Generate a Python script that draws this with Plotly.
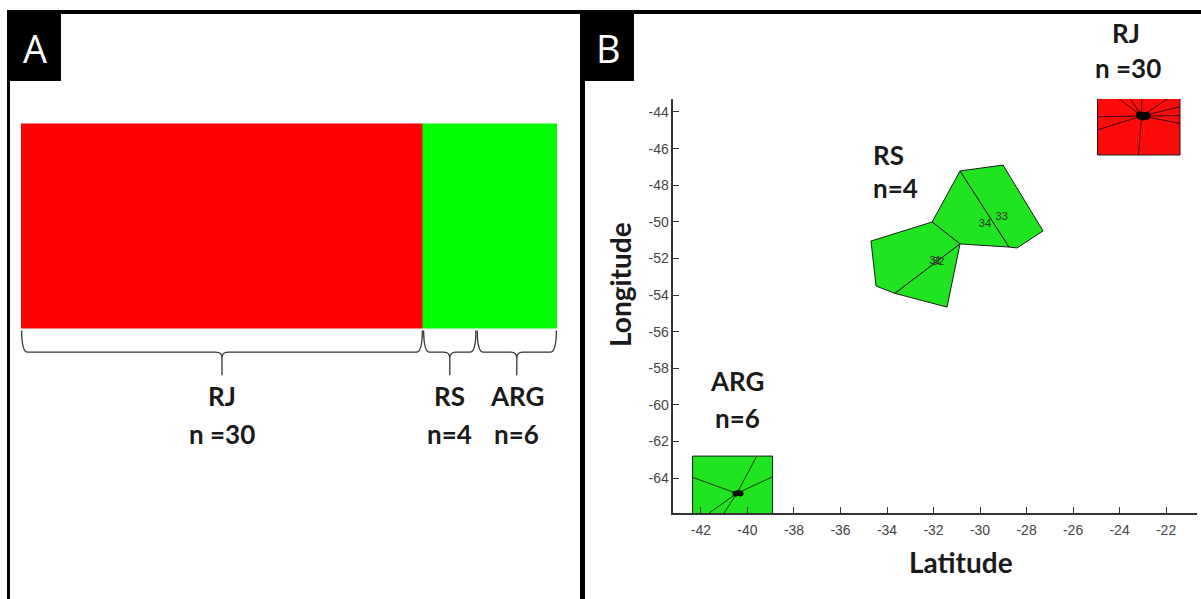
import plotly.graph_objects as go

W, H = 1201, 599

# ---------------- data ----------------
groups = ["RJ", "RS", "ARG"]
counts = [30, 4, 6]
bar_colors = ["#FF0000", "#00FF00", "#00FF00"]
count_labels = ["n =30", "n=4", "n=6"]

# Panel B: Voronoi-like cells (latitude, longitude)
rj_cell_x = [-24.95, -21.40, -21.40, -24.95, -24.95]
rj_cell_y = [-43.25, -43.25, -46.35, -46.35, -43.25]
rj_center_x = -23.05
rj_center_y = -44.22
rj_edge_x = [-24.05, -23.55, -23.05, -21.90, -21.40, -21.40, -21.40, -24.95, -24.95, -23.19]
rj_edge_y = [-43.25, -43.25, -43.25, -43.25, -43.71, -44.20, -44.62, -44.98, -44.26, -46.35]
rj_pts_x = [-23.12, -23.00, -22.85]
rj_pts_y = [-44.18, -44.24, -44.20]

arg_cell_x = [-42.36, -38.92, -38.92, -42.36, -42.36]
arg_cell_y = [-62.80, -62.80, -66.20, -66.20, -62.80]
arg_center_x = -40.46
arg_center_y = -64.84
arg_edge_x = [-42.36, -39.60, -38.92, -41.75, -41.05]
arg_edge_y = [-63.96, -62.80, -63.93, -66.00, -66.00]
arg_pts_x = [-40.52, -40.40, -40.30]
arg_pts_y = [-64.86, -64.82, -64.84]

rs_cell34_x = [-32.06, -30.86, -28.75, -30.86, -32.06]
rs_cell34_y = [-50.01, -47.22, -51.38, -51.21, -50.01]
rs_cell33_x = [-30.86, -29.01, -27.29, -28.41, -28.75, -30.86]
rs_cell33_y = [-47.22, -46.90, -50.50, -51.43, -51.38, -47.22]
rs_cell31_x = [-34.69, -32.06, -30.86, -33.66, -34.47, -34.69]
rs_cell31_y = [-51.05, -50.01, -51.21, -53.91, -53.51, -51.05]
rs_cell32_x = [-30.86, -31.42, -33.66, -30.86]
rs_cell32_y = [-51.21, -54.66, -53.91, -51.21]
rs_ids = ["31", "32", "34", "33"]
rs_id_x = [-31.92, -31.80, -29.79, -29.07]
rs_id_y = [-52.15, -52.20, -50.12, -49.75]

x_ticks = list(range(-42, -21, 2))
y_ticks = list(range(-64, -43, 2))


def px(x):
    return x / W


def py(y):
    return 1 - y / H


fig = go.Figure()

# ---------------- Panel A: proportion bar ----------------
starts = [sum(counts[:i]) for i in range(len(counts))]
for g, c, s, col in zip(groups, counts, starts, bar_colors):
    fig.add_trace(go.Bar(
        x=[c], base=[s], y=[0.5], width=[1.0], orientation="h",
        marker=dict(color=col, line=dict(width=1, color=col)),
        xaxis="x2", yaxis="y2", showlegend=False, hoverinfo="skip"))

# braces + labels under each group
yt, ym, ytip = -0.012, -0.118, -0.232
r = 0.45
stem = 0.03
shapes = []
annotations = []
lab_font = dict(family="Lato", size=26, color="#1a1a1a")
for g, c, s, lab in zip(groups, counts, starts, count_labels):
    x0, x1 = s + 0.05, s + c - 0.05
    xm = (x0 + x1) / 2
    path = (f"M {x0},{yt} Q {x0},{ym} {x0 + r},{ym} L {xm - r},{ym} "
            f"Q {xm},{ym} {xm},{ym - stem} L {xm},{ytip} "
            f"M {xm},{ym - stem} Q {xm},{ym} {xm + r},{ym} L {x1 - r},{ym} "
            f"Q {x1},{ym} {x1},{yt}")
    shapes.append(dict(type="path", path=path, xref="x2", yref="y2",
                       line=dict(color="#333333", width=1.3)))
    annotations.append(dict(x=xm, y=-0.333, xref="x2", yref="y2", text=f"<b>{g}</b>",
                            xanchor="center", yanchor="middle",
                            showarrow=False, font=lab_font))
    annotations.append(dict(x=xm, y=-0.52, xref="x2", yref="y2", text=f"<b>{lab}</b>",
                            xanchor="center", yanchor="middle",
                            showarrow=False, font=lab_font))

# ---------------- Panel B: cells ----------------
cell_green = "#1FE41F"
cell_line = dict(color="#1a1a1a", width=1)
for cx, cy, col in [(rj_cell_x, rj_cell_y, "#FF0A0A"),
                    (arg_cell_x, arg_cell_y, cell_green),
                    (rs_cell34_x, rs_cell34_y, cell_green),
                    (rs_cell33_x, rs_cell33_y, cell_green),
                    (rs_cell31_x, rs_cell31_y, cell_green),
                    (rs_cell32_x, rs_cell32_y, cell_green)]:
    fig.add_trace(go.Scatter(x=cx, y=cy, mode="lines", fill="toself", fillcolor=col,
                             line=cell_line, showlegend=False, hoverinfo="skip"))


def spokes(cx, cy, ex, ey):
    xs, ys = [], []
    for a, b in zip(ex, ey):
        xs += [cx, a, None]
        ys += [cy, b, None]
    return xs, ys


for cx, cy, ex, ey, col in [(rj_center_x, rj_center_y, rj_edge_x, rj_edge_y, "#3a0000"),
                            (arg_center_x, arg_center_y, arg_edge_x, arg_edge_y, "#0a3a0a")]:
    sx, sy = spokes(cx, cy, ex, ey)
    fig.add_trace(go.Scatter(x=sx, y=sy, mode="lines", line=dict(color=col, width=1),
                             showlegend=False, hoverinfo="skip"))

fig.add_trace(go.Scatter(x=rj_pts_x, y=rj_pts_y, mode="markers",
                         marker=dict(color="#000000", size=8), showlegend=False, hoverinfo="skip"))
fig.add_trace(go.Scatter(x=arg_pts_x, y=arg_pts_y, mode="markers",
                         marker=dict(color="#111111", size=6), showlegend=False, hoverinfo="skip"))
fig.add_trace(go.Scatter(x=rs_id_x, y=rs_id_y, mode="text", text=rs_ids,
                         textfont=dict(family="Liberation Sans", size=11, color="#333333"),
                         showlegend=False, hoverinfo="skip"))

# group labels in panel B
for t, x, y in [("RJ", 1126, 33), ("n =30", 1128, 68), ("RS", 888, 155), ("n=4", 895, 188),
                ("ARG", 737, 381), ("n=6", 737, 418)]:
    annotations.append(dict(x=px(x), y=py(y), xref="paper", yref="paper", text=f"<b>{t}</b>",
                            xanchor="center", yanchor="middle",
                            showarrow=False, font=lab_font))

# axis titles
title_font = dict(family="Lato", size=28, color="#1a1a1a")
annotations.append(dict(x=px(961), y=py(562), xref="paper", yref="paper", text="<b>Latitude</b>",
                        xanchor="center", yanchor="middle", showarrow=False, font=title_font))
annotations.append(dict(x=px(620), y=py(285), xref="paper", yref="paper", text="<b>Longitude</b>",
                        xanchor="center", yanchor="middle",
                        textangle=-90, showarrow=False, font=title_font))

# frame & panel labels
black = "#000000"
for x0, y0, x1, y1 in [(7, 10, W, 14), (7, 10, 10, H), (580, 10, 585, H),
                       (7, 10, 61, 81), (580, 10, 634, 81)]:
    shapes.append(dict(type="rect", xref="paper", yref="paper", x0=px(x0), x1=px(x1),
                       y0=py(y1), y1=py(y0), fillcolor=black, line=dict(width=0), layer="above"))
for t, x in [("A", 35), ("B", 608)]:
    annotations.append(dict(x=px(x), y=py(48), xref="paper", yref="paper", text=t,
                            xanchor="center", yanchor="middle",
                            showarrow=False, font=dict(family="Open Sans", size=38, color="#FFFFFF")))

axis_font = dict(family="Liberation Sans", size=14, color="#444444")
fig.update_layout(
    width=W, height=H, margin=dict(l=0, r=0, t=0, b=0),
    paper_bgcolor="white", plot_bgcolor="white", barmode="overlay",
    showlegend=False, shapes=shapes, annotations=annotations,
    xaxis=dict(domain=[673.3 / W, 1197 / W], range=[-43.19, -20.67],
               tickvals=x_ticks, ticktext=[str(v) for v in x_ticks],
               ticks="inside", ticklen=6, tickcolor="#333333", tickwidth=1,
               showline=True, linecolor="#333333", linewidth=1.5, ticklabelstandoff=3,
               showgrid=False, zeroline=False, tickfont=axis_font, anchor="y"),
    yaxis=dict(domain=[1 - 513 / H, 1 - 99 / H], range=[-65.91, -43.29],
               tickvals=y_ticks, ticktext=[str(v) for v in y_ticks],
               ticks="inside", ticklen=6, tickcolor="#333333", tickwidth=1,
               showline=True, linecolor="#333333", linewidth=1.5,
               showgrid=False, zeroline=False, tickfont=axis_font, anchor="x"),
    xaxis2=dict(domain=[21 / W, 557 / W], range=[0, 40], visible=False, anchor="y2"),
    yaxis2=dict(domain=[1 - 500 / H, 1 - 100 / H], range=[-0.8431, 1.1176], visible=False,
                anchor="x2"),
)

fig.write_html("out.html", config={"displayModeBar": False},
               post_script="document.body.style.margin='0';document.body.style.overflow='hidden';")
